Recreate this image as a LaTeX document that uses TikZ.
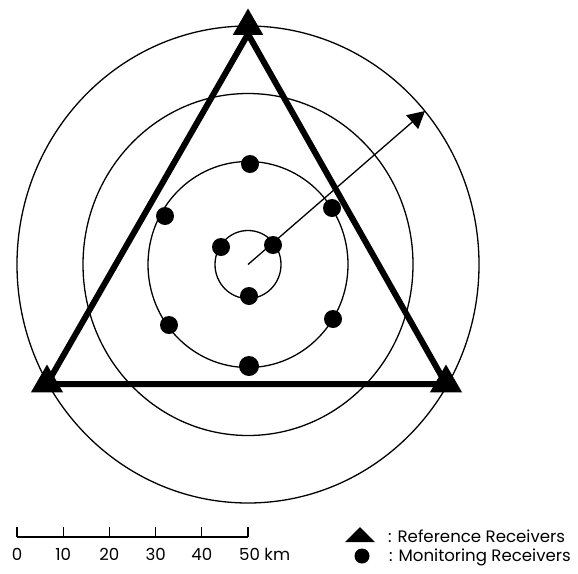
\documentclass[tikz,border=0pt]{standalone}
\usepackage{fontspec}
\setmainfont{Poppins}
\usetikzlibrary{arrows.meta,positioning,shapes.geometric}

\begin{document}
\begin{tikzpicture}[x=1pt,y=-1pt,>={Triangle[length=17pt,width=18pt]},
  ring/.style={line width=1.3pt},
  tri/.style={line width=6pt,line join=round},
  refrx/.style={regular polygon,regular polygon sides=3,fill=black,minimum size=37pt,inner sep=0pt},
  monrx/.style={circle,fill=black,minimum size=18pt,inner sep=0pt},
  lbl/.style={font=\fontsize{16.6}{19}\selectfont,inner sep=0pt,anchor=base}]
\useasboundingbox (0,0) rectangle (578,573);
% RINGS
\coordinate (ctr) at (248,264.5);
\draw[ring] (ctr) ellipse [x radius=33,y radius=34];
\draw[ring] (ctr) ellipse [x radius=100,y radius=103];
\draw[ring] (ctr) ellipse [x radius=165,y radius=171];
\draw[ring] (ctr) ellipse [x radius=231,y radius=238.5];
\coordinate (edge) at (425,111);
\draw[ring,->] (ctr)--(edge);
% TRIANGLE
\coordinate (ta) at (248,34);
\coordinate (tl) at (47,384);
\coordinate (tr) at (446,384);
\draw[tri] (ta)--(tl)--(tr)--cycle;
\node[refrx,minimum size=35pt] (ref1) at (248,26) {};
\node[refrx] (ref2) at (47,383) {};
\node[refrx] (ref3) at (446,383) {};
% MONITORING
\node[monrx] (mon1) at (250,164) {};
\node[monrx] (mon2) at (165,216) {};
\node[monrx] (mon3) at (332,208) {};
\node[monrx] (mon4) at (221,247) {};
\node[monrx] (mon5) at (273,245) {};
\node[monrx] (mon6) at (249,296) {};
\node[monrx] (mon7) at (169,325) {};
\node[monrx] (mon8) at (333,319) {};
\node[monrx,minimum size=20pt] (mon9) at (249,366) {};
% SCALE
\draw[ring] (17,537)--(248,537);
\foreach \i in {0,...,5} {\draw[ring] (17+46.2*\i,537)--(17+46.2*\i,527);}
\foreach \d [count=\i from 0] in {0,10,20,30,40} {\node[lbl] (km\d) at (17+46.2*\i,560) {\d};}
\node[lbl,anchor=base west] (km50) at (239,560) {50 km};
% KEY
\coordinate (keyref) at (360,535);
\fill (keyref) ++(-15,7) -- ++(30,0) -- ++(-15,-15) -- cycle;
\node[monrx,minimum size=15pt] (keymon) at (362,556) {};
\node[lbl,anchor=base west] (keyreftxt) at (388,542) {: Reference Receivers};
\node[lbl,anchor=base west] (keymontxt) at (389,561) {: Monitoring Receivers};
\end{tikzpicture}
\end{document}
